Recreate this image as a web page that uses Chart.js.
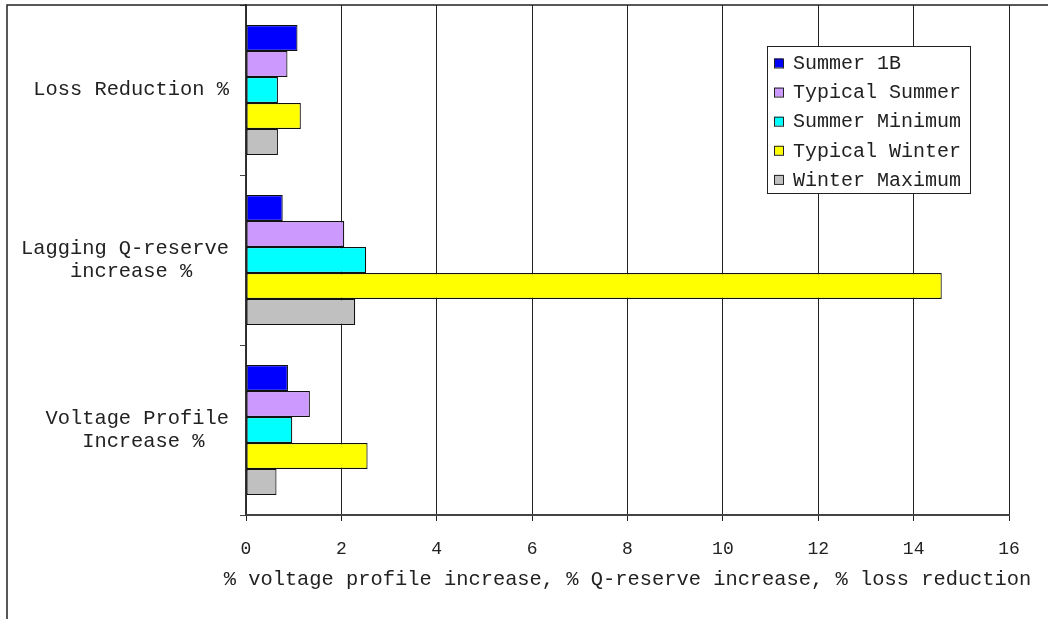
<!DOCTYPE html>
<html>
<head>
<meta charset="utf-8">
<script src="https://cdn.jsdelivr.net/npm/chart.js@4/dist/chart.umd.min.js"></script>
<style>
  html, body { margin: 0; padding: 0; background: #fff; }
  #wrap { width: 1048px; height: 619px; }
</style>
</head>
<body>
<div id="wrap"><canvas id="chart" width="1048" height="619"></canvas></div>
<script>
// categories, top to bottom (trailing spaces centre the second line under the first)
const categories = [
  'Loss Reduction %',
  ['Lagging Q-reserve', 'increase %   '],
  ['Voltage Profile', 'Increase %  ']
];
const seriesNames = ['Summer 1B', 'Typical Summer', 'Summer Minimum', 'Typical Winter', 'Winter Maximum'];
const seriesColors = ['#0000FF', '#CC99FF', '#00FFFF', '#FFFF00', '#C0C0C0'];

// values per series, one per category
const summer1B      = [1.08, 0.77, 0.88];
const typicalSummer = [0.87, 2.06, 1.34];
const summerMinimum = [0.67, 2.52, 0.97];
const typicalWinter = [1.15, 14.59, 2.55];
const winterMaximum = [0.67, 2.29, 0.64];

const xTicks = [0, 2, 4, 6, 8, 10, 12, 14, 16];
const xTitle = '% voltage profile increase, % Q-reserve increase, % loss reduction';

const FONT = '"Liberation Mono", "Courier New", monospace';
const seriesValues = [summer1B, typicalSummer, summerMinimum, typicalWinter, winterMaximum];

// outer frame: the top and left edges of the chart border
const framePlugin = {
  id: 'frame',
  afterDraw(chart) {
    const ctx = chart.ctx;
    ctx.save();
    ctx.strokeStyle = '#222';
    ctx.lineWidth = 1.5;
    ctx.beginPath();
    ctx.moveTo(1048, 5);
    ctx.lineTo(7, 5);
    ctx.lineTo(7, 619);
    ctx.stroke();
    ctx.restore();
  }
};

// x axis title, drawn by hand because the scale title gets squeezed to the plot width
const xTitlePlugin = {
  id: 'xTitle',
  afterDraw(chart) {
    const ctx = chart.ctx;
    const area = chart.chartArea;
    ctx.save();
    ctx.font = '20.4px ' + FONT;
    ctx.fillStyle = '#222';
    ctx.textAlign = 'center';
    ctx.textBaseline = 'middle';
    ctx.fillText(xTitle, (area.left + area.right) / 2, 580);
    ctx.restore();
  }
};

// boxed legend sitting inside the plot area
const boxLegend = {
  id: 'boxLegend',
  afterDraw(chart) {
    const ctx = chart.ctx;
    const left = 767, top = 46, right = 970, bottom = 193;
    ctx.save();
    ctx.fillStyle = '#fff';
    ctx.fillRect(left, top, right - left, bottom - top);
    ctx.strokeStyle = '#222';
    ctx.lineWidth = 1;
    ctx.strokeRect(left + 0.5, top + 0.5, right - left, bottom - top);
    ctx.font = '20px ' + FONT;
    ctx.textBaseline = 'middle';
    chart.data.datasets.forEach((ds, i) => {
      const y = 63 + i * 29.1;
      ctx.fillStyle = ds.backgroundColor;
      ctx.fillRect(774, y - 4.5, 9, 9);
      ctx.strokeStyle = '#222';
      ctx.strokeRect(774.5, y - 4, 9, 9);
      ctx.fillStyle = '#222';
      ctx.fillText(ds.label, 793, y + 1);
    });
    ctx.restore();
  }
};

new Chart(document.getElementById('chart'), {
  type: 'bar',
  data: {
    labels: categories,
    datasets: seriesNames.map((name, i) => ({
      label: name,
      data: seriesValues[i],
      backgroundColor: seriesColors[i],
      borderColor: '#111',
      borderWidth: 1.2,
      borderSkipped: false,
      categoryPercentage: 0.765,
      barPercentage: 1
    }))
  },
  options: {
    indexAxis: 'y',
    responsive: false,
    animation: false,
    layout: { padding: { left: 0, right: 39, top: 5, bottom: 0 } },
    plugins: {
      legend: { display: false },
      tooltip: { enabled: false }
    },
    scales: {
      x: {
        min: 0,
        max: 16,
        afterBuildTicks(scale) {
          scale.ticks = xTicks.map(v => ({ value: v }));
        },
        afterFit(scale) {
          scale.height = 104;
          scale.paddingLeft = 0;
          scale.paddingRight = 0;
        },
        grid: {
          color: '#222',
          lineWidth: 1,
          tickLength: 6
        },
        border: { color: '#444', width: 2 },
        ticks: {
          color: '#222',
          padding: 17,
          maxRotation: 0,
          font: { family: FONT, size: 18 }
        }
      },
      y: {
        afterFit(scale) {
          scale.width = 246;
          scale.paddingTop = 0;
          scale.paddingBottom = 0;
        },
        grid: {
          offset: true,
          drawOnChartArea: false,
          color: '#444',
          tickLength: 6
        },
        border: { color: '#333', width: 1.5 },
        ticks: {
          color: '#222',
          padding: 11,
          crossAlign: 'near',
          font: { family: FONT, size: 20.4, lineHeight: 1.15 }
        }
      }
    }
  },
  plugins: [framePlugin, xTitlePlugin, boxLegend]
});
</script>
</body>
</html>
